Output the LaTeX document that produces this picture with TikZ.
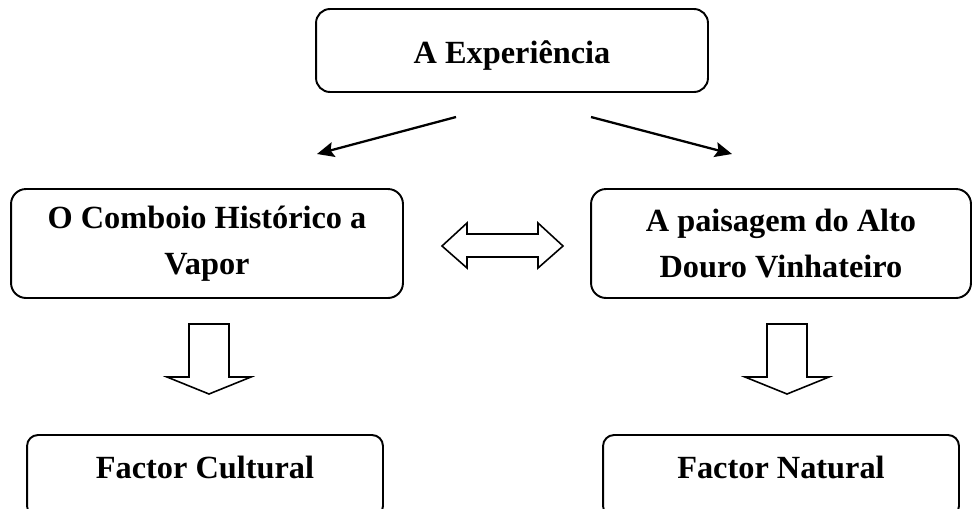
\documentclass[tikz,border=0pt]{standalone}
\usepackage{fontspec}
\setmainfont{Liberation Serif}
\usetikzlibrary{arrows.meta, positioning}
\tikzstyle{headbox} = [rectangle, rounded corners=0.28cm, minimum width=7.84cm, minimum height=1.66cm, text height=0.64cm, text depth=0.14cm, text centered, draw=black, line width=1.1pt, font=\fontsize{18.4}{26.5}\selectfont\bfseries]
\tikzstyle{infobox} = [rectangle, rounded corners=0.3cm, minimum width=7.84cm, minimum height=2.18cm, text centered, align=center, draw=black, line width=1.1pt, font=\fontsize{18.4}{26.5}\selectfont\bfseries]
\tikzstyle{factorbox} = [rectangle, rounded corners=0.22cm, minimum width=7.12cm, minimum height=1.64cm, text depth=0.36cm, text centered, draw=black, line width=1.1pt, font=\fontsize{18.4}{26.5}\selectfont\bfseries]
\tikzstyle{blockarrow} = [draw=black, line width=0.9pt, fill=white, line join=miter]

\begin{document}
\begin{tikzpicture}[x=0.02cm, y=-0.02cm]
\useasboundingbox (0,0) rectangle (972,508);
\node (exp) [headbox] at (512,50.5) {A Experiência};
\node (comboio) [infobox] at (207,243.5) {O Comboio Histórico a\\Vapor};
\node (paisagem) [infobox, minimum width=7.6cm] at (781,243.5) {A paisagem do Alto\\Douro Vinhateiro};
\node (cultural) [factorbox] at (205,476) {Factor Cultural};
\node (natural) [factorbox] at (781,476) {Factor Natural};
\coordinate (expL) at (456,117);
\coordinate (comboioT) at (317,154);
\coordinate (expR) at (591,117);
\coordinate (paisagemT) at (732,154);
\draw [line width=1.3pt, -{Stealth[length=0.34cm, width=0.3cm, inset=0.06cm]}] (expL) -- (comboioT);
\draw [line width=1.3pt, -{Stealth[length=0.34cm, width=0.3cm, inset=0.06cm]}] (expR) -- (paisagemT);
\draw [blockarrow] (442,246) -- (467,223) -- (467,234) -- (538,234) -- (538,223) -- (563,246) -- (538,268) -- (538,257) -- (467,257) -- (467,268) -- cycle;
\foreach \cx in {209,787}
  \draw [blockarrow] (\cx-20,324) -- (\cx+20,324) -- (\cx+20,377) -- (\cx+42,377) -- (\cx,394) -- (\cx-42,377) -- (\cx-20,377) -- cycle;
\end{tikzpicture}
\end{document}
